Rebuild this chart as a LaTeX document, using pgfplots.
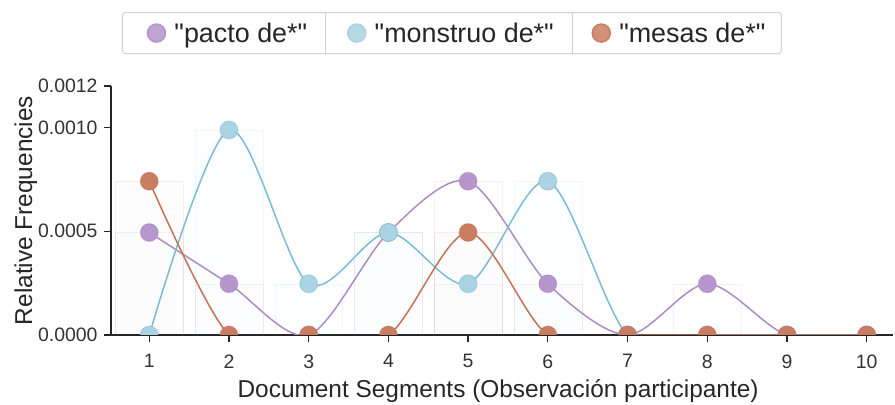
\documentclass[border=0pt]{standalone}
\usepackage{fontspec}
\setmainfont[Ligatures=TeXOff]{Liberation Sans}
\usepackage{pgfplots}
\pgfplotsset{compat=1.18}
\definecolor{pactoC}{RGB}{172,140,198}
\definecolor{pactoM}{RGB}{182,150,204}
\definecolor{monC}{RGB}{122,188,216}
\definecolor{monM}{RGB}{170,211,227}
\definecolor{mesC}{RGB}{196,114,86}
\definecolor{mesM}{RGB}{203,125,98}
\begin{document}
\begin{tikzpicture}
\path[use as bounding box] (0,0) rectangle (895bp,405bp);
\begin{axis}[
  at={(111bp,70bp)}, anchor=south west,
  scale only axis, width=782bp, height=249bp,
  xmin=0.52, xmax=10.33, ymin=0, ymax=0.0012,
  axis lines=left, axis line style={-, black!85, line width=1.3bp},
  xtick={1,2,3,4,5,6,7,8,9,10}, xticklabels={1,2,3,4,5,6,7,8,9,10},
  ytick={0,0.0005,0.001,0.0012}, yticklabels={0.0000,0.0005,0.0010,0.0012},
  scaled y ticks=false,
  tick align=outside, major tick length=7bp,
  tick style={black!85, line width=1.3bp},
  ticklabel style={font=\fontsize{19.5}{20}\selectfont, text=black!80},
  xticklabel style={yshift=-9bp},
  yticklabel style={xshift=-3bp},
  xlabel={Document Segments (Observación participante)},
  ylabel={Relative Frequencies},
  label style={font=\fontsize{24.5}{25}\selectfont, text=black!85},
  xlabel style={at={(axis description cs:0.495,-0.249)}, anchor=base},
  ylabel style={at={(axis description cs:-0.101,0.5)}, anchor=base},
  clip marker paths=true,
  legend columns=3,
  legend style={at={(axis description cs:0.436,1.297)}, anchor=north,
    draw=black!18, line width=1bp, rounded corners=3bp,
    inner xsep=0bp, inner ysep=0bp,
    font=\fontsize{27}{28}\selectfont, text=black!85,
    /tikz/every even column/.append style={column sep=16bp}},
]
% faint background bars
\addplot[ybar, bar width=0.85, bar shift=0pt, fill=pactoC, fill opacity=0.012, draw=pactoC, draw opacity=0.12, forget plot]
  coordinates {(1,0.000494) (2,0.000247) (3,0) (4,0.000494) (5,0.000741) (6,0.000247) (7,0) (8,0.000247) (9,0) (10,0)};
\addplot[ybar, bar width=0.85, bar shift=0pt, fill=monC, fill opacity=0.012, draw=monC, draw opacity=0.12, forget plot]
  coordinates {(1,0) (2,0.000988) (3,0.000247) (4,0.000494) (5,0.000247) (6,0.000741) (7,0) (8,0) (9,0) (10,0)};
\addplot[ybar, bar width=0.85, bar shift=0pt, fill=mesC, fill opacity=0.012, draw=mesC, draw opacity=0.12, forget plot]
  coordinates {(1,0.000741) (2,0) (3,0) (4,0) (5,0.000494) (6,0) (7,0) (8,0) (9,0) (10,0)};
% series
\addplot[smooth, pactoC, line width=1.5bp, mark=*, mark size=9bp,
  mark options={fill=pactoM, draw=pactoC!85!black, draw opacity=0.3, line width=1bp},
  legend image code/.code={\path[draw=none,fill=none] (-34bp,-20bp) rectangle (16bp,20bp);
    \fill[pactoM, fill opacity=0.85] (0,0) circle (9bp);}]
  coordinates {(1,0.000494) (2,0.000247) (3,0) (4,0.000494) (5,0.000741) (6,0.000247) (7,0) (8,0.000247) (9,0) (10,0)};
\addlegendentry{"pacto de*"}
\addplot[smooth, monC, line width=1.5bp, mark=*, mark size=9bp,
  mark options={fill=monM, draw=monC!85!black, draw opacity=0.3, line width=1bp},
  legend image code/.code={\path[draw=none,fill=none] (-31bp,-20bp) rectangle (16bp,20bp);
    \draw[black!18, line width=1bp] (-31bp,-20bp) -- (-31bp,20bp);
    \fill[monM, fill opacity=0.85] (0,0) circle (9bp);}]
  coordinates {(1,0) (2,0.000988) (3,0.000247) (4,0.000494) (5,0.000247) (6,0.000741) (7,0) (8,0) (9,0) (10,0)};
\addlegendentry{"monstruo de*"}
\addplot[smooth, mesC, line width=1.5bp, mark=*, mark size=9bp,
  mark options={fill=mesM, draw=mesC!85!black, draw opacity=0.3, line width=1bp},
  legend image code/.code={\path[draw=none,fill=none] (-29bp,-20bp) rectangle (16bp,20bp);
    \draw[black!18, line width=1bp] (-29bp,-20bp) -- (-29bp,20bp);
    \fill[mesM, fill opacity=0.85] (0,0) circle (9bp);}]
  coordinates {(1,0.000741) (2,0) (3,0) (4,0) (5,0.000494) (6,0) (7,0) (8,0) (9,0) (10,0)};
\addlegendentry{"mesas de*"\hspace*{14bp}}
\end{axis}
\end{tikzpicture}
\end{document}
